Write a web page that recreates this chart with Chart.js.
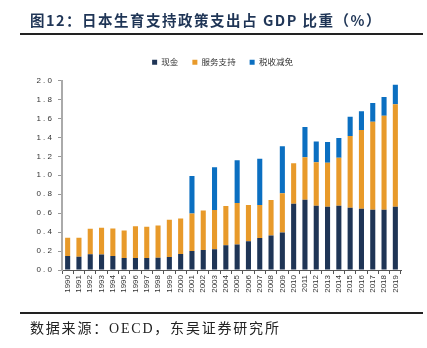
<!DOCTYPE html>
<html><head><meta charset="utf-8">
<script src="https://cdn.jsdelivr.net/npm/chart.js@4/dist/chart.umd.min.js"></script>
<style>
html,body{margin:0;padding:0;background:#fff;}
#wrap{position:relative;width:427px;height:348px;overflow:hidden;}
#c{position:absolute;left:0;top:0;}
#title{position:absolute;left:30px;top:9px;font-family:"Noto Sans CJK SC","Liberation Serif",serif;font-weight:bold;font-size:14.5px;color:#1F3556;white-space:nowrap;letter-spacing:1.5px;}
.rule{position:absolute;left:20px;width:403px;height:1.5px;background:#222;}
#src{position:absolute;left:30px;top:317px;font-family:"Liberation Serif","Noto Sans CJK SC",serif;font-size:14px;color:#222;white-space:nowrap;letter-spacing:1.8px;}
</style></head>
<body><div id="wrap">
<canvas id="c" width="427" height="348"></canvas>
<div id="title">图12：日本生育支持政策支出占 GDP 比重（%）</div>
<div class="rule" style="top:33px"></div>
<div class="rule" style="top:312px"></div>
<div id="src">数据来源：OECD，东吴证券研究所</div>
</div>
<script>
const years = ["1990","1991","1992","1993","1994","1995","1996","1997","1998","1999","2000","2001","2002","2003","2004","2005","2006","2007","2008","2009","2010","2011","2012","2013","2014","2015","2016","2017","2018","2019"];
const cash = [0.148,0.14,0.166,0.163,0.148,0.127,0.127,0.127,0.13,0.138,0.17,0.20,0.212,0.22,0.261,0.269,0.304,0.339,0.364,0.396,0.70,0.742,0.678,0.668,0.678,0.657,0.647,0.636,0.636,0.668];
const services = [0.192,0.20,0.269,0.282,0.29,0.29,0.336,0.329,0.34,0.392,0.374,0.397,0.417,0.413,0.414,0.438,0.382,0.347,0.375,0.413,0.427,0.449,0.46,0.463,0.506,0.756,0.83,0.929,0.993,1.081];
const taxBreaks = [0,0,0,0,0,0,0,0,0,0,0,0.396,0,0.452,0,0.452,0,0.487,0,0.498,0,0.318,0.219,0.219,0.208,0.205,0.198,0.198,0.198,0.205];
const yTicks = [0,0.2,0.4,0.6,0.8,1.0,1.2,1.4,1.6,1.8,2.0];

const shiftLegend = {
  id:'shiftLegend',
  afterLayout(chart){
    const l = chart.legend;
    if(l){ l.left += 22; l.right += 22; l.top -= 4; l.bottom -= 4; }
  }
};

new Chart(document.getElementById('c'), {
  type: 'bar',
  data: {
    labels: years,
    datasets: [
      {label:'现金', data: cash, backgroundColor:'#1F3556'},
      {label:'服务支持', data: services, backgroundColor:'#E89A2A'},
      {label:'税收减免', data: taxBreaks, backgroundColor:'#0B6FC1'}
    ]
  },
  plugins:[shiftLegend],
  options: {
    responsive:false, animation:false,
    layout:{padding:{left:0,right:26,top:48,bottom:42}},
    datasets:{bar:{barPercentage:0.45,categoryPercentage:1.0}},
    plugins:{
      legend:{display:true,position:'top',
        labels:{boxWidth:5,boxHeight:5,padding:14,color:'#333',
          font:{family:'"Noto Sans CJK SC"',size:8.5}}},
      tooltip:{enabled:false}
    },
    scales:{
      x:{stacked:true,
        grid:{offset:true,drawOnChartArea:false,drawTicks:true,tickLength:4,color:'#555'},
        border:{color:'#555',width:1},
        ticks:{minRotation:90,maxRotation:90,autoSkip:false,color:'#333',padding:1,
          font:{family:'"Liberation Sans"',size:8}},
        afterFit:(s)=>{s.height=36;}
      },
      y:{stacked:true,min:0,max:2.0,
        afterBuildTicks:(s)=>{s.ticks=yTicks.map(v=>({value:v}));},
        grid:{drawOnChartArea:false,drawTicks:true,tickLength:4,color:'#999'},
        border:{color:'#aaa',width:2},
        ticks:{color:'#333',padding:6,callback:(v)=>v.toFixed(1).split('').join(' '),
          font:{family:'"Liberation Sans"',size:8}},
        afterFit:(s)=>{s.width=62;}
      }
    }
  }
});
</script>
</body></html>
